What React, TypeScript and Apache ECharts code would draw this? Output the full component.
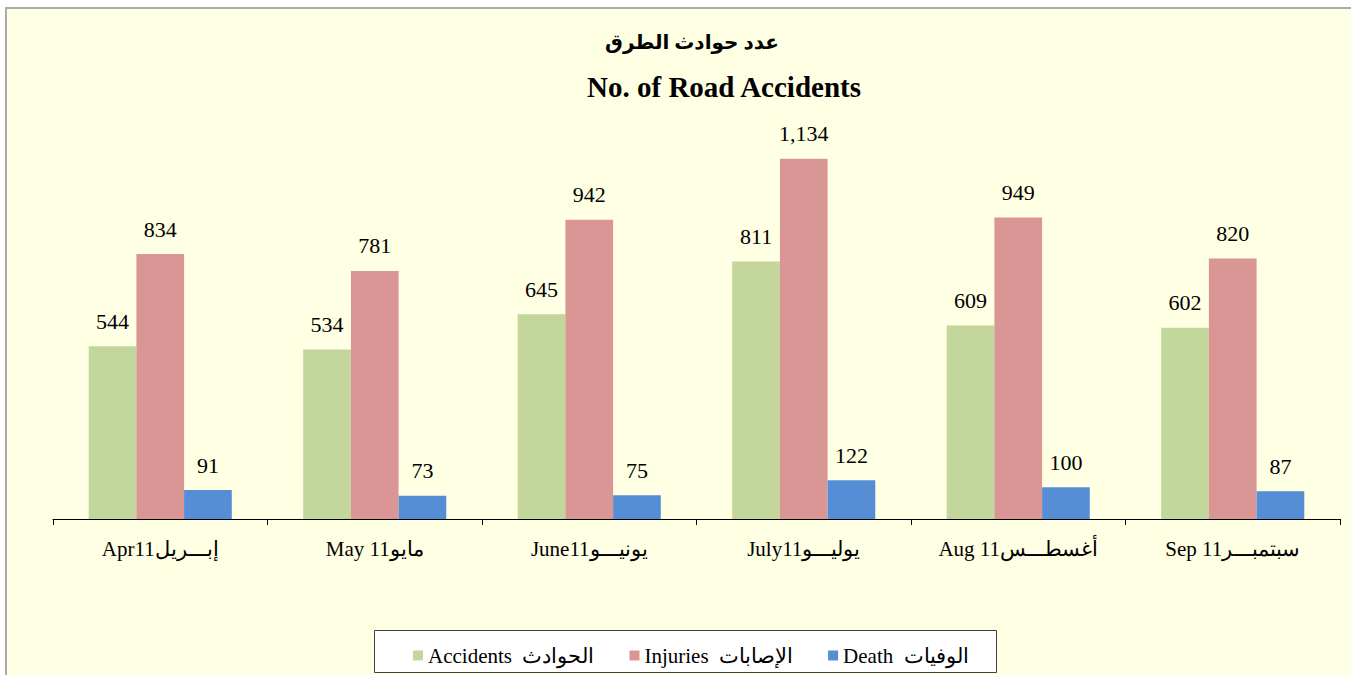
import React, { useEffect, useRef } from "react";
import * as echarts from "echarts";

const categories = [
  "Apr11إبـــريل",
  "May 11مايو",
  "June11يونيـــو",
  "July11يوليـــو",
  "Aug 11أغسطـــس",
  "Sep 11سبتمبـــر",
];
const seriesNames = ["Accidents  الحوادث", "Injuries  الإصابات", "Death  الوفيات"];
const accidents = [544, 534, 645, 811, 609, 602];
const injuries = [834, 781, 942, 1134, 949, 820];
const deaths = [91, 73, 75, 122, 100, 87];
const colors = ["#C3D69B", "#D99694", "#558ED5"];
const titleAr = "عدد حوادث الطرق";
const titleEn = "No. of Road Accidents";

const FONT = "Liberation Serif";

export default function App() {
  const ref = useRef<HTMLDivElement>(null);
  useEffect(() => {
    if (!ref.current) return;
    const chart = echarts.init(ref.current, null, { renderer: "svg" });
    const mk = (name: string, data: number[], color: string) => ({
      name,
      type: "bar",
      data,
      barGap: "0%",
      barCategoryGap: "33.3%",
      itemStyle: { color },
      label: {
        show: true,
        position: "top",
        distance: 14,
        color: "#000",
        fontSize: 22,
        fontFamily: FONT,
        formatter: (p: any) => Number(p.value).toLocaleString("en-US"),
      },
    });
    chart.setOption({
      animation: false,
      backgroundColor: "transparent",
      textStyle: { fontFamily: FONT },
      grid: { left: 53, right: 11, top: 122, bottom: 156, containLabel: false },
      xAxis: {
        type: "category",
        data: categories,
        axisLine: { show: true, lineStyle: { color: "#000", width: 1 } },
        axisTick: { show: true, length: 6, lineStyle: { color: "#000" } },
        axisLabel: { color: "#000", fontSize: 21, fontFamily: FONT, margin: 19 },
      },
      yAxis: {
        type: "value",
        min: 0,
        max: 1250,
        show: false,
        splitLine: { show: false },
      },
      legend: {
        data: seriesNames,
        left: 413,
        top: 645,
        padding: 0,
        itemGap: 35,
        itemWidth: 10,
        itemHeight: 10,
        icon: "rect",
        textStyle: { color: "#000", fontSize: 21, fontFamily: FONT },
      },
      graphic: [
        {
          type: "rect",
          shape: { x: 374.5, y: 630.5, width: 622, height: 42 },
          style: { fill: "#ffffff", stroke: "#404040", lineWidth: 1 },
          z: -1,
          silent: true,
        },
        {
          type: "text",
          x: 692,
          y: 42,
          style: {
            text: titleAr,
            textAlign: "center",
            textVerticalAlign: "middle",
            font: "bold 20px 'Liberation Serif', 'DejaVu Sans', serif",
            fill: "#000",
          },
        },
        {
          type: "text",
          x: 724,
          y: 87,
          style: {
            text: titleEn,
            textAlign: "center",
            textVerticalAlign: "middle",
            font: "bold 29px 'Liberation Serif', serif",
            fill: "#000",
          },
        },
      ],
      series: [
        mk(seriesNames[0], accidents, colors[0]),
        mk(seriesNames[1], injuries, colors[1]),
        mk(seriesNames[2], deaths, colors[2]),
      ],
    });
    return () => chart.dispose();
  }, []);
  return (
    <div style={{ position: "fixed", left: 0, top: 0, width: 1351, height: 675, background: "#ffffff", overflow: "hidden" }}>
      <div
        style={{
          position: "absolute",
          left: 5,
          top: 7,
          right: -4,
          bottom: -4,
          background: "#FFFFE3",
          borderTop: "2px solid #ababab",
          borderLeft: "2px solid #ababab",
        }}
      />
      <div ref={ref} style={{ position: "absolute", left: 0, top: 0, width: 1351, height: 675 }} />
    </div>
  );
}
